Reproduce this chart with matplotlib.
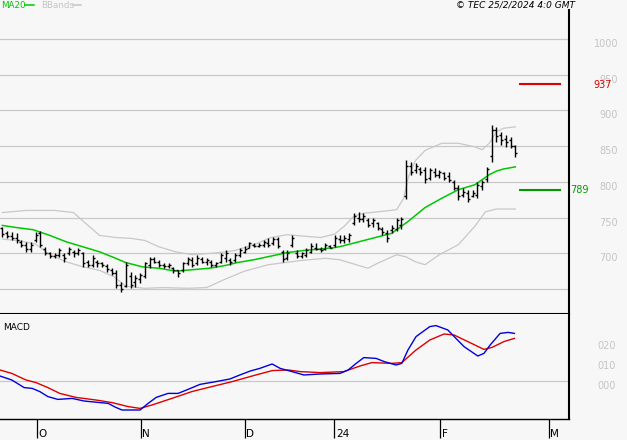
import numpy as np
import matplotlib
matplotlib.use("Agg")
import matplotlib.pyplot as plt
from matplotlib.lines import Line2D

# ---- price bars (bar number, high, low, open, close) ----
high = [737, 731, 730, 728, 719, 716, 716, 730, 731, 709,
        702, 700, 707, 700, 709, 705, 708, 702, 691, 698,
        691, 688, 685, 679, 677, 660, 688, 674, 670, 672,
        688, 695, 695, 691, 686, 686, 681, 677, 688, 695,
        695, 698, 695, 693, 691, 688, 700, 705, 693, 700,
        707, 710, 716, 714, 715, 719, 722, 723, 723, 705,
        705, 726, 705, 702, 707, 714, 714, 709, 714, 712,
        726, 726, 726, 728, 756, 758, 756, 749, 749, 744,
        737, 732, 739, 749, 751, 830, 828, 826, 821, 821,
        819, 819, 817, 814, 814, 803, 796, 791, 789, 789,
        800, 803, 821, 880, 877, 870, 866, 863, 852]
low = [723, 721, 719, 715, 709, 702, 702, 716, 709, 698,
       693, 693, 695, 688, 698, 695, 698, 681, 681, 681,
       681, 681, 674, 670, 651, 646, 653, 651, 653, 658,
       665, 679, 686, 681, 679, 679, 672, 667, 674, 684,
       681, 684, 686, 684, 681, 681, 686, 688, 684, 688,
       695, 700, 707, 709, 709, 709, 709, 712, 707, 688,
       691, 709, 693, 693, 695, 700, 705, 702, 705, 707,
       709, 714, 714, 716, 740, 744, 744, 737, 737, 733,
       726, 716, 729, 731, 734, 776, 810, 812, 810, 798,
       803, 807, 805, 803, 800, 789, 775, 779, 772, 779,
       777, 789, 800, 828, 856, 852, 849, 847, 835]
opn = [735, 728, 724, 722, 716, 712, 706, 718, 728, 706,
       700, 696, 698, 698, 700, 702, 700, 700, 688, 684,
       688, 686, 682, 676, 672, 656, 654, 668, 660, 664,
       668, 684, 692, 688, 684, 682, 680, 676, 676, 686,
       690, 686, 692, 688, 688, 684, 688, 694, 690, 690,
       698, 702, 708, 712, 710, 712, 714, 714, 720, 702,
       694, 712, 700, 696, 698, 702, 708, 706, 706, 710,
       712, 720, 718, 720, 742, 750, 748, 746, 742, 742,
       734, 728, 732, 734, 740, 780, 822, 816, 818, 816,
       806, 814, 810, 812, 808, 800, 792, 782, 784, 780,
       782, 794, 804, 836, 872, 866, 860, 858, 850]
cls = [727, 724, 722, 718, 712, 706, 712, 726, 712, 700,
       696, 697, 704, 694, 706, 700, 704, 686, 684, 694,
       686, 684, 678, 672, 656, 650, 684, 656, 666, 670,
       686, 692, 688, 684, 682, 684, 676, 672, 686, 692,
       684, 694, 688, 690, 684, 686, 698, 700, 688, 698,
       704, 706, 714, 710, 712, 716, 712, 720, 710, 692,
       700, 722, 696, 700, 704, 710, 706, 704, 712, 708,
       722, 718, 722, 726, 752, 748, 752, 740, 746, 736,
       730, 722, 736, 746, 748, 822, 814, 822, 814, 804,
       816, 810, 814, 806, 802, 792, 780, 786, 776, 784,
       796, 800, 818, 872, 864, 858, 856, 850, 840]
bars = np.arange(1, len(high) + 1)

# ---- MA20 and Bollinger bands, read at sample bars ----
ma_x = [1, 4, 7.5, 11, 14.5, 18, 21.5, 24.5, 27, 30.5, 34, 37.5, 41, 44.5, 48,
        50.5, 54, 57.5, 61, 64.5, 68, 71, 72.5, 76, 79.5, 83, 86.5, 90, 93.5,
        97, 100.5, 103.5, 105, 106.5, 109]
ma_y = [739, 736, 733, 725, 716, 709, 702, 694, 687, 681, 679, 675, 677, 679, 683,
        687, 691, 696, 701, 704, 706, 708, 710, 716, 722, 728, 745, 764, 777,
        789, 796, 810, 815, 818, 821]

ub_x = [1, 6, 12, 16, 18, 21.5, 25, 28, 31, 34, 37.5, 41, 45, 48, 50, 54, 57.5,
        61, 64.5, 68, 71, 73, 75, 77, 80, 84, 85.5, 86.5, 88, 90, 93.5, 97,
        100.5, 102, 103.5, 105, 106.5, 109]
ub_y = [757, 760, 760, 757, 745, 725, 722, 721, 718, 709, 702, 698, 700, 702, 704,
        712, 722, 726, 724, 722, 727, 738, 752, 756, 758, 761, 777, 807, 830, 844,
        854, 854, 849, 845, 854, 870, 875, 877]

lb_x = [1, 5, 8, 11, 14.5, 18, 21.5, 24.5, 27, 31, 35, 40, 44, 48, 52, 57, 64,
        69, 72, 75, 78, 80, 84, 86, 88, 90, 93, 97, 100.5, 102.7, 105, 109]
lb_y = [720, 717, 713, 698, 688, 681, 676, 667, 654, 651, 652, 651, 652, 664,
        675, 684, 690, 693, 691, 685, 679, 686, 698, 695, 688, 684, 698, 712,
        738, 758, 762, 762]

# ---- MACD ----
macd_x = [0.5, 3, 5.6, 7.3, 8.9, 10.6, 12.7, 15.7, 18.2, 23.3, 24.9, 26.2, 30,
          31.7, 33.4, 35.9, 38, 40.1, 42.6, 46, 48.9, 51, 53.2, 55.2, 57.8, 59.5,
          62, 64.5, 67.9, 72.1, 73.8, 75.5, 77.1, 79.7, 81.4, 83.9, 85.1, 86.4,
          88.1, 91, 92.3, 94.8, 96.5, 98.2, 101.1, 102.4, 103.7, 105.8, 107.5, 108.8]
macd_y = [2.5, 0.5, -3.3, -3.7, -5.3, -7.8, -9.2, -8.7, -10, -11.2, -13.2, -14.5,
          -14.5, -11.2, -8.2, -6.2, -6.2, -4.2, -1.7, -0.3, 1, 3, 5, 6.3, 8.5, 6.3,
          4.7, 3, 3.5, 3.8, 5.5, 8.8, 11.7, 11.3, 9.7, 8, 8.8, 15.5, 22.2, 27.2,
          27.7, 25.5, 21.3, 17.2, 12.5, 13.8, 18, 23.8, 24.3, 23.8]
sig_x = [0.5, 3, 6, 8.1, 10.6, 13.1, 16.5, 20.7, 24.1, 27.5, 30, 32.5, 36.7, 40.9,
         45.1, 49.4, 53.6, 57.8, 61.2, 63.7, 67.9, 72.9, 76.3, 78.8, 83, 85.1,
         88.1, 91, 94, 96.1, 99, 102.4, 104.1, 106.6, 108.8]
sig_y = [5.5, 3.8, 0.5, -0.8, -3.3, -6.2, -8.2, -9.5, -10.8, -12.8, -13.7, -12,
         -8.7, -5.3, -2.8, -0.3, 2.5, 5.2, 5.5, 4.7, 4.2, 4.7, 7.5, 9.2, 8.8, 9.2,
         15.5, 20.5, 23.5, 23, 19.7, 15.8, 16.8, 19.7, 21.3]

# ---- levels and axis labels ----
price_grid = [650, 700, 750, 800, 850, 900, 950, 1000]
price_labels = [700, 750, 800, 850, 900, 950, 1000]
macd_ticks = [0, 10, 20]
macd_tick_labels = ["000", "010", "020"]
month_pos = [8.26, 30.16, 52.05, 70.92, 93.15, 116.05]
month_labels = ["O", "N", "D", "24", "F", "M"]
resist = 937
support = 789

bg = "#f7f7f7"
W, H = 627, 440
fig = plt.figure(figsize=(W / 100, H / 100), dpi=100)
fig.set_facecolor(bg)


def box(x0, y0, x1, y1):
    return [x0 / W, 1 - y1 / H, (x1 - x0) / W, (y1 - y0) / H]


ax = fig.add_axes(box(0, 10, 569, 314))
mac = fig.add_axes(box(0, 314, 569, 419))
xlim = (0.516, 120.3)

# price panel
ax.set_facecolor(bg)
ax.set_xlim(*xlim)
ax.set_ylim(615, 1040.6)
for p in price_grid:
    ax.axhline(p, color="#c8c8c8", lw=0.9, zorder=1)
ax.plot(ub_x, ub_y, color="#c8c8c8", lw=0.9, zorder=2)
ax.plot(lb_x, lb_y, color="#c8c8c8", lw=0.9, zorder=2)
ax.plot(ma_x, ma_y, color="#00c800", lw=1.1, zorder=3)
ax.vlines(bars, low, high, color="black", lw=1.0, zorder=4)
ax.hlines(opn, bars - 0.42, bars, color="black", lw=1.0, zorder=4)
ax.hlines(cls, bars, bars + 0.42, color="black", lw=1.0, zorder=4)
ax.hlines(resist, 109.8, 118.6, color="#dd0000", lw=1.5, zorder=4)
ax.hlines(support, 109.8, 118.6, color="#009a00", lw=1.5, zorder=4)
ax.set_xticks([])
ax.set_yticks([])
for s in ["left", "top"]:
    ax.spines[s].set_visible(False)
for s in ["right", "bottom"]:
    ax.spines[s].set_color("black")
    ax.spines[s].set_linewidth(1.5)
for p in price_labels:
    ax.annotate(str(p), xy=(1, p), xycoords=("axes fraction", "data"),
                xytext=(35.3, -3.6), textcoords="offset points", ha="right",
                va="center", color="#c4c4c4", fontsize=7, annotation_clip=False)
ax.annotate(str(resist), xy=(1, resist), xycoords=("axes fraction", "data"),
            xytext=(17.3, -0.5), textcoords="offset points", ha="left",
            va="center", color="#dd0000", fontsize=7, annotation_clip=False)
ax.annotate(str(support), xy=(1, support), xycoords=("axes fraction", "data"),
            xytext=(0.8, -0.5), textcoords="offset points", ha="left",
            va="center", color="#009a00", fontsize=7, annotation_clip=False)

# MACD panel
mac.set_facecolor(bg)
mac.set_xlim(*xlim)
mac.set_ylim(-19, 33.5)
mac.axhline(0, color="#c8c8c8", lw=0.9, zorder=1)
mac.plot(sig_x, sig_y, color="#dd0000", lw=1.0, zorder=3)
mac.plot(macd_x, macd_y, color="#0000dd", lw=1.0, zorder=3)
mac.set_yticks([])
mac.set_xticks(month_pos)
mac.tick_params(axis="x", length=13.5, width=0.9, direction="out",
                labelbottom=False, color="black")
for s in ["left", "top"]:
    mac.spines[s].set_visible(False)
mac.spines["right"].set_linewidth(1.5)
mac.spines["bottom"].set_linewidth(1.0)
for t, lab in zip(month_pos, month_labels):
    mac.annotate(lab, xy=(t, 0), xycoords=("data", "axes fraction"),
                 xytext=(1.2, -10.5), textcoords="offset points", ha="left",
                 va="center", fontsize=7.5, annotation_clip=False)
for v, lab in zip(macd_ticks, macd_tick_labels):
    mac.annotate(lab, xy=(1, v), xycoords=("axes fraction", "data"),
                 xytext=(34, -3.6), textcoords="offset points", ha="right",
                 va="center", color="#c4c4c4", fontsize=7, annotation_clip=False)
mac.text(3 / 569, 1 - 13 / 105, "MACD", transform=mac.transAxes, fontsize=6.5,
         ha="left", va="center")

# header: legend and copyright
fig.text(1 / W, 1 - 5 / H, "MA20", color="#00c800", fontsize=6.3, ha="left", va="center")
fig.add_artist(Line2D([25 / W, 34 / W], [1 - 5 / H, 1 - 5 / H], color="#00c800",
                      lw=1.1, transform=fig.transFigure))
fig.text(41 / W, 1 - 5 / H, "BBands", color="#c4c4c4", fontsize=6.3, ha="left", va="center")
fig.add_artist(Line2D([73 / W, 81 / W], [1 - 5 / H, 1 - 5 / H], color="#c4c4c4",
                      lw=1.1, transform=fig.transFigure))
fig.text(575 / W, 1 - 5 / H, "\u00a9 TEC 25/2/2024 4:0 GMT", fontsize=6.5,
         style="italic", ha="right", va="center")

fig.savefig("out.png", dpi=100, facecolor=bg)
